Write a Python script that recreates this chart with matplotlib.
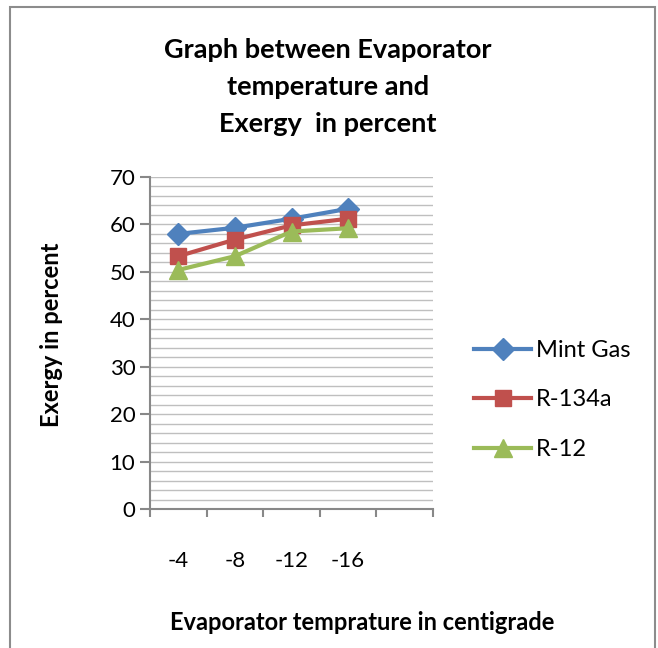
import matplotlib.pyplot as plt
import matplotlib.patches as mpatches
import numpy as np

plt.rcParams['font.family'] = ['Lato', 'DejaVu Sans']

# data
categories = ['-4', '-8', '-12', '-16', '']
mint_gas = [58, 59.3, 61.2, 63.3]
r134a = [53.3, 56.8, 59.8, 61.2]
r12 = [50.4, 53.3, 58.5, 59.2]

series = [('Mint Gas', mint_gas, '#4F81BD', 'D', 11.5),
          ('R-134a', r134a, '#C0504D', 's', 11.5),
          ('R-12', r12, '#9BBB59', '^', 12.5)]

fig = plt.figure(figsize=(6.58, 6.48), dpi=100)
ax = fig.add_axes([150/658, 1-509/648, 283/658, 332/648])

x = np.arange(len(mint_gas)) + 0.5
for name, vals, col, mk, ms in series:
    ax.plot(x, vals, color=col, lw=3, marker=mk, ms=ms, label=name)

ax.set_xlim(0, len(categories))
ax.set_ylim(0, 70)
ax.set_yticks(np.arange(0, 71, 10))
ax.set_yticks(np.arange(0, 71, 2), minor=True)
ax.grid(True, which='both', axis='y', color='#BFBFBF', lw=1)
ax.set_axisbelow(True)

# category boundaries as ticks, labels at centres
ax.set_xticks(np.arange(0, len(categories) + 1))
ax.set_xticklabels([])
ax.set_xticks(np.arange(len(categories)) + 0.5, minor=True)
ax.set_xticklabels(categories, minor=True)
ax.tick_params(axis='x', which='major', length=6, color='#888888', width=1.5)
ax.tick_params(axis='x', which='minor', length=0, pad=30, labelsize=16)
ax.tick_params(axis='y', which='major', length=7, color='#888888', width=1.5, labelsize=16)
ax.tick_params(axis='y', which='minor', length=0)

for s in ['top', 'right']:
    ax.spines[s].set_visible(False)
for s in ['left', 'bottom']:
    ax.spines[s].set_color('#888888')
    ax.spines[s].set_linewidth(1.5)

fig.text(52/658, 1-335/648, 'Exergy in percent', rotation=90,
         ha='center', va='center', fontsize=17, fontweight='bold')
fig.text(362/658, 1-622/648, 'Evaporator temprature in centigrade',
         ha='center', va='center', fontsize=17, fontweight='bold')
fig.text(328/658, 1-87/648, 'Graph between Evaporator\ntemperature and\nExergy  in percent',
         ha='center', va='center', fontsize=19.5, fontweight='bold', linespacing=1.65)

ax.legend(loc='center left', bbox_to_anchor=(453/658, 1-400/648),
          bbox_transform=fig.transFigure, frameon=False, fontsize=17,
          handlelength=2.4, labelspacing=1.2, handletextpad=0.2)

fig.patches.append(mpatches.Rectangle((10/658, -0.01), 645/658, 1-7/648 + 0.01,
                   transform=fig.transFigure, fill=False, ec='#8C8C8C', lw=1.5))

fig.savefig('out.png', dpi=100)
